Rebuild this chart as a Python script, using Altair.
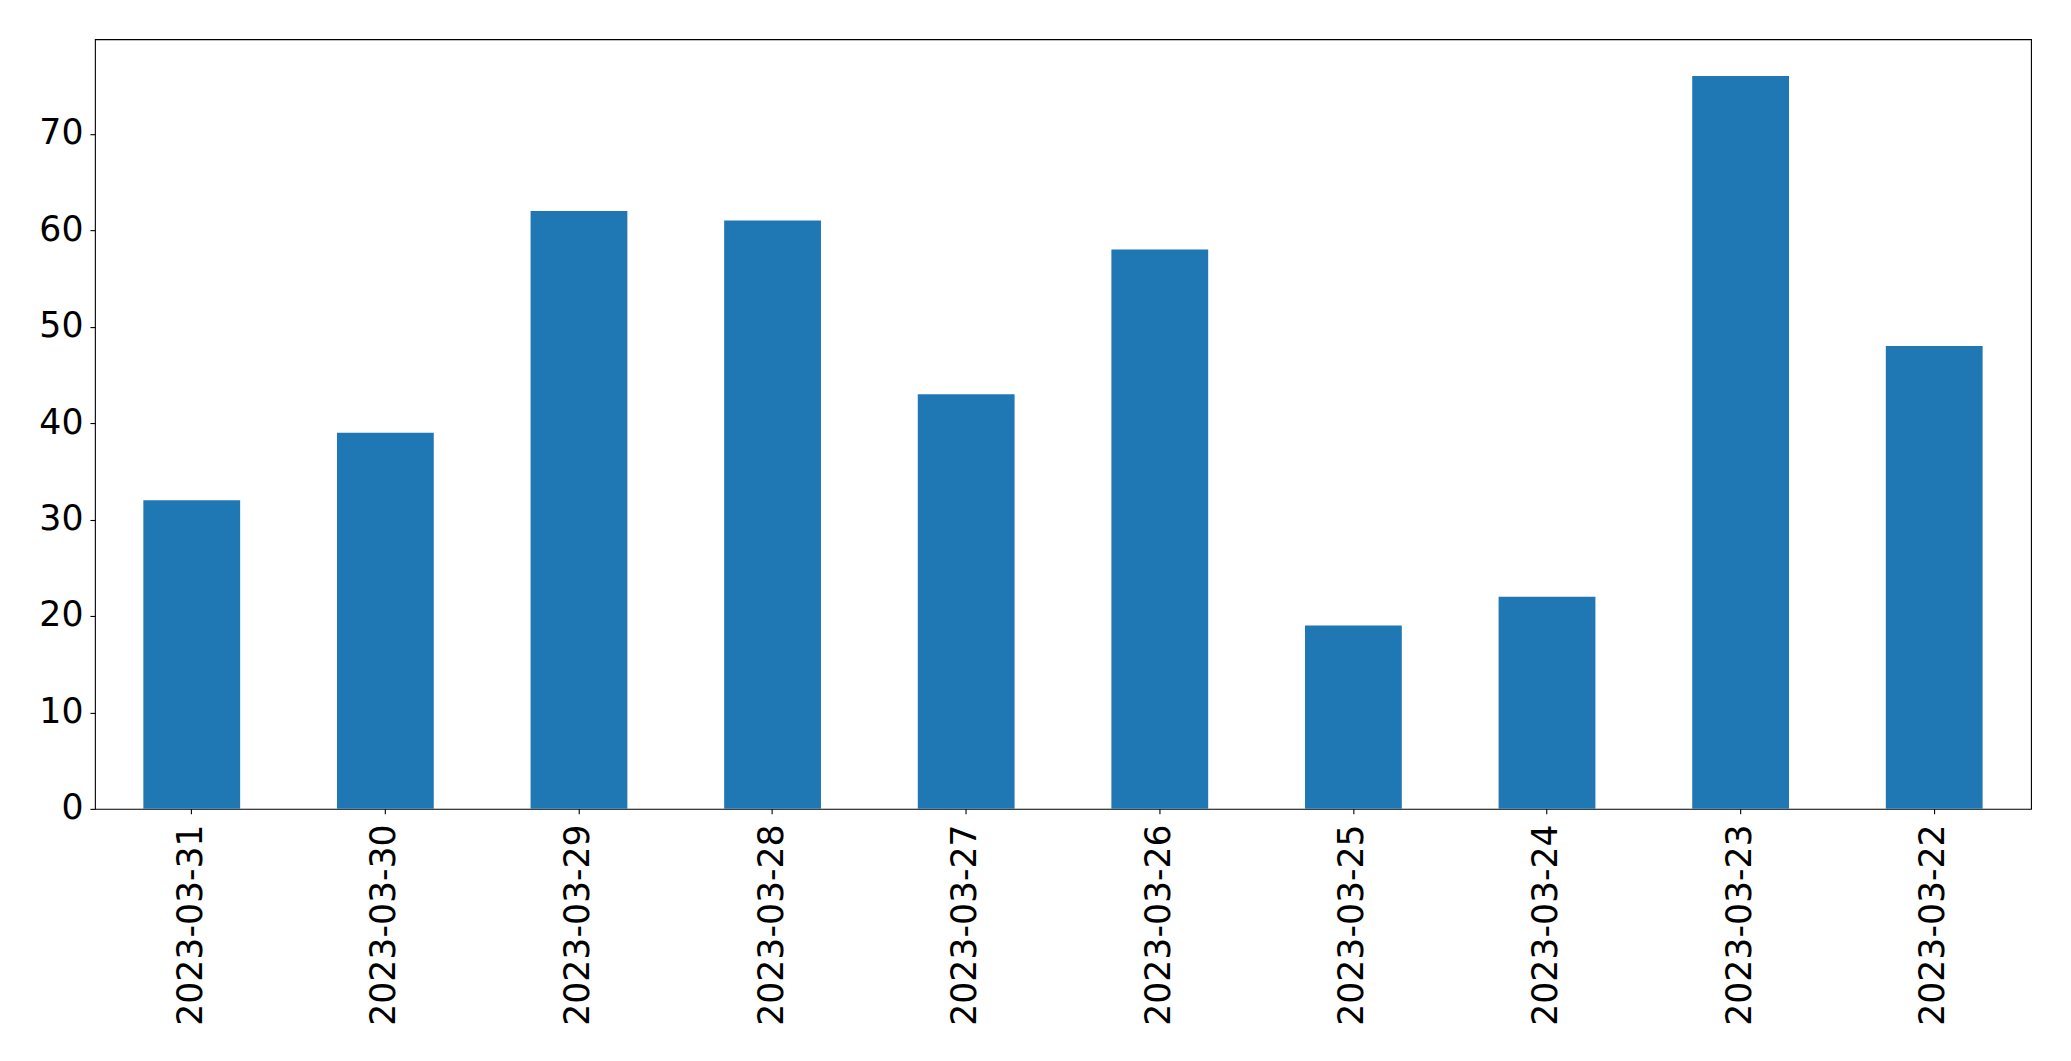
import altair as alt
import pandas as pd

dates = ["2023-03-31", "2023-03-30", "2023-03-29", "2023-03-28", "2023-03-27",
         "2023-03-26", "2023-03-25", "2023-03-24", "2023-03-23", "2023-03-22"]
counts = [32, 39, 62, 61, 43, 58, 19, 22, 76, 48]

df = pd.DataFrame({"date": dates, "count": counts})

FONT = "DejaVu Sans"
FS = 34.7

chart = alt.Chart(df).mark_bar(color="#1f77b4").encode(
    x=alt.X("date:N", sort=None, title=None,
            scale=alt.Scale(paddingInner=0.5, paddingOuter=0.25),
            axis=alt.Axis(labelAngle=270, labelFontSize=FS, labelFont=FONT,
                          labelColor="black", tickColor="black", tickSize=5,
                          tickWidth=1.1, labelPadding=10, domain=False, grid=False,
                          labelLimit=0)),
    y=alt.Y("count:Q", title=None,
            scale=alt.Scale(domain=[0, 79.8], nice=False, zero=True),
            axis=alt.Axis(values=[0, 10, 20, 30, 40, 50, 60, 70], labelFontSize=FS,
                          labelFont=FONT, labelColor="black", tickColor="black",
                          tickSize=5, tickWidth=1.1, labelPadding=7,
                          domain=False, grid=False)),
).properties(
    width=1937, height=770,
    autosize=alt.AutoSizeParams(type="none"),
    padding={"left": 95, "top": 39, "right": 40, "bottom": 252},
).configure(
    background="white"
).configure_view(
    stroke="black", strokeWidth=1.1
)

chart.save("out.html", embed_options={"renderer": "svg", "actions": False})
